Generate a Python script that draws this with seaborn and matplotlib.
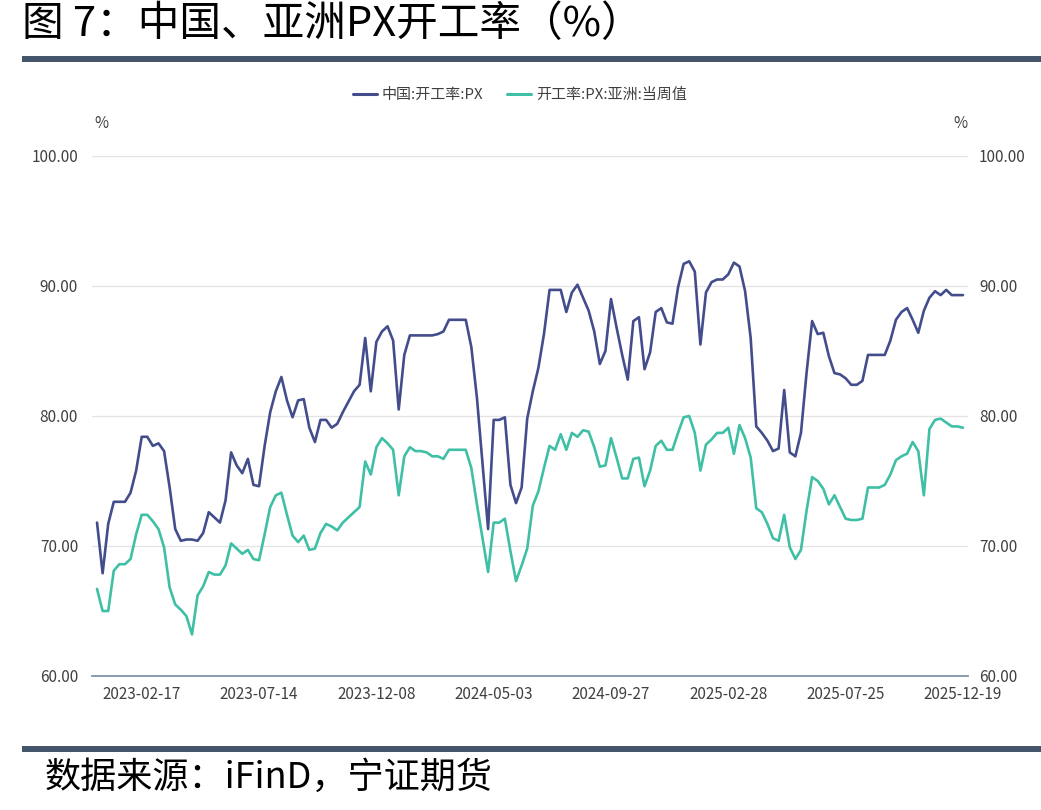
import matplotlib
matplotlib.use("Agg")
import matplotlib.pyplot as plt
import matplotlib.lines as mlines
import seaborn as sns
import pandas as pd

# weekly dates (one holiday week missing in the source series)
dates = [d for d in pd.date_range("2022-12-23", "2025-12-19", freq="7D")
         if d != pd.Timestamp("2025-01-31")]

china_px = [
    71.8, 67.9, 71.7, 73.4, 73.4, 73.4, 74.1, 75.8, 78.4, 78.4,
    77.7, 77.9, 77.3, 74.5, 71.3, 70.4, 70.5, 70.5, 70.4, 71.0,
    72.6, 72.2, 71.8, 73.5, 77.2, 76.2, 75.6, 76.7, 74.7, 74.6,
    77.7, 80.3, 81.9, 83.0, 81.2, 79.9, 81.2, 81.3, 79.1, 78.0,
    79.7, 79.7, 79.1, 79.4, 80.3, 81.1, 81.9, 82.4, 86.0, 81.9,
    85.7, 86.5, 86.9, 85.8, 80.5, 84.7, 86.2, 86.2, 86.2, 86.2,
    86.2, 86.3, 86.5, 87.4, 87.4, 87.4, 87.4, 85.3, 81.4, 76.3,
    71.3, 79.7, 79.7, 79.9, 74.7, 73.3, 74.5, 79.8, 81.9, 83.7,
    86.3, 89.7, 89.7, 89.7, 88.0, 89.5, 90.1, 89.1, 88.1, 86.5,
    84.0, 85.0, 89.0, 86.8, 84.7, 82.8, 87.3, 87.6, 83.6, 84.9,
    88.0, 88.3, 87.2, 87.1, 89.9, 91.7, 91.9, 91.1, 85.5, 89.5,
    90.3, 90.5, 90.5, 90.9, 91.8, 91.5, 89.6, 86.0, 79.2, 78.7,
    78.1, 77.3, 77.5, 82.0, 77.2, 76.9, 78.7, 83.3, 87.3, 86.3,
    86.4, 84.6, 83.3, 83.2, 82.9, 82.4, 82.4, 82.7, 84.7, 84.7,
    84.7, 84.7, 85.8, 87.4, 88.0, 88.3, 87.4, 86.4, 88.1, 89.1,
    89.6, 89.3, 89.7, 89.3, 89.3, 89.3,
]

asia_px = [
    66.7, 65.0, 65.0, 68.1, 68.6, 68.6, 69.0, 70.9, 72.4, 72.4,
    71.9, 71.3, 69.9, 66.8, 65.5, 65.1, 64.6, 63.2, 66.2, 66.9,
    68.0, 67.8, 67.8, 68.5, 70.2, 69.8, 69.4, 69.7, 69.0, 68.9,
    70.9, 73.0, 73.9, 74.1, 72.4, 70.8, 70.3, 70.8, 69.7, 69.8,
    71.0, 71.7, 71.5, 71.2, 71.8, 72.2, 72.6, 73.0, 76.5, 75.5,
    77.6, 78.3, 77.9, 77.4, 73.9, 76.9, 77.6, 77.3, 77.3, 77.2,
    76.9, 76.9, 76.7, 77.4, 77.4, 77.4, 77.4, 76.0, 73.2, 70.6,
    68.0, 71.8, 71.8, 72.1, 69.6, 67.3, 68.5, 69.8, 73.1, 74.2,
    76.0, 77.7, 77.4, 78.6, 77.4, 78.7, 78.4, 78.9, 78.8, 77.6,
    76.1, 76.2, 78.3, 76.8, 75.2, 75.2, 76.7, 76.8, 74.6, 75.8,
    77.7, 78.1, 77.4, 77.4, 78.7, 79.9, 80.0, 78.7, 75.8, 77.8,
    78.2, 78.7, 78.7, 79.1, 77.1, 79.3, 78.3, 76.8, 72.9, 72.6,
    71.7, 70.6, 70.4, 72.4, 69.9, 69.0, 69.7, 72.7, 75.3, 75.0,
    74.4, 73.2, 73.9, 73.0, 72.1, 72.0, 72.0, 72.1, 74.5, 74.5,
    74.5, 74.7, 75.5, 76.6, 76.9, 77.1, 78.0, 77.3, 73.9, 79.0,
    79.7, 79.8, 79.5, 79.2, 79.2, 79.1,
]

series_names = ["中国:开工率:PX", "开工率:PX:亚洲:当周值"]
colors = {series_names[0]: "#434d8c", series_names[1]: "#3fbfa5"}

sns.set_style("white")
plt.rcParams["font.family"] = ["Noto Sans CJK SC", "DejaVu Sans"]
plt.rcParams["axes.unicode_minus"] = False

n = len(dates)
df = pd.DataFrame({
    "idx": list(range(n)) * 2,
    "value": china_px + asia_px,
    "series": [series_names[0]] * n + [series_names[1]] * n,
})

W, H = 1041, 810
fig = plt.figure(figsize=(W / 100, H / 100), dpi=100)
ax = fig.add_axes([92 / W, 1 - 676 / H, (968 - 92) / W, (676 - 156) / H])

sns.lineplot(df, x="idx", y="value", hue="series", palette=colors,
             linewidth=1.9, legend=False, ax=ax)

ax.set_xlim(-0.9, n - 1 + 0.9)
ax.set_ylim(60, 100)
yt = [60, 70, 80, 90, 100]
ax.set_yticks(yt)
ax.set_yticklabels([f"{v:.2f}" for v in yt])
ax.grid(axis="y", color="#e3e3e3", linewidth=0.9)
ax.set_xlabel("")
ax.set_ylabel("")
for s in ["top", "left", "right"]:
    ax.spines[s].set_visible(False)
ax.spines["bottom"].set_color("#8290a8")
ax.spines["bottom"].set_linewidth(1.3)

tick_pos = list(range(8, n, 21))
ax.set_xticks(tick_pos)
ax.set_xticklabels([dates[i].strftime("%Y-%m-%d") for i in tick_pos])
ax.tick_params(axis="x", length=0, pad=7, labelsize=11, labelcolor="#404040")
ax.tick_params(axis="y", length=0, pad=10, labelsize=11, labelcolor="#404040")

ax2 = ax.twinx()
ax2.set_ylim(ax.get_ylim())
ax2.set_yticks(yt)
ax2.set_yticklabels([f"{v:.2f}" for v in yt])
ax2.tick_params(axis="y", length=0, pad=8, labelsize=11, labelcolor="#404040")
for s in ["top", "left", "right", "bottom"]:
    ax2.spines[s].set_visible(False)

fig.text(101 / W, 1 - 123 / H, "%", ha="center", va="center", fontsize=11, color="#404040")
fig.text(960 / W, 1 - 123 / H, "%", ha="center", va="center", fontsize=11, color="#404040")

handles = [mlines.Line2D([], [], color=colors[s], linewidth=2.2) for s in series_names]
fig.legend(handles, series_names, loc="center", bbox_to_anchor=(520 / W, 1 - 95 / H),
           ncol=2, frameon=False, fontsize=10.8, handlelength=1.6, handletextpad=0.3,
           columnspacing=1.6, labelcolor="#404040")

# title and separator bars
fig.text(22 / W, 1 - 25 / H, "图 7：中国、亚洲PX开工率（%）", ha="left", va="center",
         fontsize=30, color="black")
bar_color = "#44546a"
fig.add_artist(plt.Rectangle((22 / W, 1 - 62 / H), 1 - 22 / W, 6 / H,
                             transform=fig.transFigure, color=bar_color, lw=0))
fig.add_artist(plt.Rectangle((22 / W, 1 - 752 / H), 1 - 22 / W, 6 / H,
                             transform=fig.transFigure, color=bar_color, lw=0))
fig.text(45 / W, 1 - 778 / H, "数据来源：iFinD，宁证期货", ha="left", va="center",
         fontsize=26, style="italic", color="black")

fig.savefig("out.png", dpi=100)
